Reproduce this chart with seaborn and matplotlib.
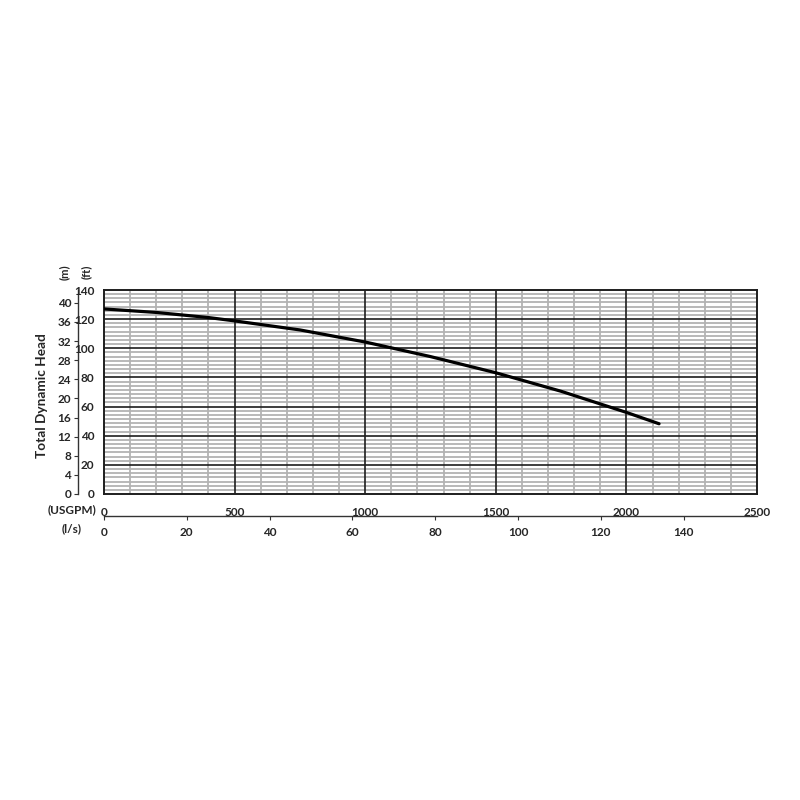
import numpy as np
import pandas as pd
import matplotlib
matplotlib.use("Agg")
import matplotlib.pyplot as plt
import seaborn as sns

# Data
flow_usgpm = [0, 200, 400, 500, 750, 1000, 1250, 1500, 1750, 2000, 2125]
head_ft = [127, 124.6, 121.1, 118.8, 112.6, 104.3, 94.3, 83.2, 70.5, 56, 48.2]

ft_ticks = [0, 20, 40, 60, 80, 100, 120, 140]
m_ticks = [0, 4, 8, 12, 16, 20, 24, 28, 32, 36, 40]
usgpm_ticks = [0, 500, 1000, 1500, 2000, 2500]
ls_ticks = [0, 20, 40, 60, 80, 100, 120, 140]

FT2M = 0.3048
USGPM2LS = 0.0630902

sns.set_style("white")
plt.rcParams['font.family'] = ['Lato', 'DejaVu Sans']
plt.rcParams['font.weight'] = 'bold'

fig = plt.figure(figsize=(8, 8), dpi=100)
ax = fig.add_axes([0.13, 0.3825, 0.81625, 0.255])

df = pd.DataFrame({"flow": flow_usgpm, "head": head_ft})

ax.set_xlim(0, 2500)
ax.set_ylim(0, 140)
ax.set_xticks(usgpm_ticks)
xminor = [v for v in range(0, 2501, 100) if v % 500 != 0]
ax.set_xticks(xminor, minor=True)
ax.set_yticks(ft_ticks)
yminor = [v for i, v in enumerate(np.linspace(0, 140, 50)) if i % 7 != 0]
ax.set_yticks(yminor, minor=True)
ax.grid(which='minor', color='#b3b3b3', lw=1.3)
ax.grid(which='major', visible=False)
ax.set_axisbelow(True)
# major grid lines drawn above the minor ones so they stay continuous
for v in usgpm_ticks[1:-1]:
    ax.axvline(v, color='#1e1e1e', lw=1.2, zorder=2)
for v in ft_ticks[1:-1]:
    ax.axhline(v, color='#1e1e1e', lw=1.2, zorder=2)
ax.tick_params(which='both', length=0)
ax.tick_params(axis='x', pad=9, labelsize=8.5)
ax.tick_params(axis='y', pad=7, labelsize=8.5)
for lbl in ax.get_xticklabels() + ax.get_yticklabels():
    lbl.set_fontweight('bold')
for sp in ax.spines.values():
    sp.set_color('#1e1e1e')
    sp.set_linewidth(1.4)
    sp.set_zorder(3)

sns.lineplot(data=df, x="flow", y="head", ax=ax, color='black', lw=2.3, zorder=5)
ax.set_xlabel("")
ax.set_ylabel("")

# meter axis on the left
secy = ax.secondary_yaxis(-26 / 653, functions=(lambda f: f * FT2M, lambda m: m / FT2M))
secy.set_yticks(m_ticks)
secy.tick_params(length=3, width=0.8, labelsize=8.5, pad=2, color='#333333')
secy.spines['left'].set_color('#333333')
secy.spines['left'].set_linewidth(1.0)
for lbl in secy.get_yticklabels():
    lbl.set_fontweight('bold')

# l/s axis at the bottom
secx = ax.secondary_xaxis(-22 / 204, functions=(lambda q: q * USGPM2LS, lambda l: l / USGPM2LS))
secx.set_xticks(ls_ticks)
secx.tick_params(length=3, width=0.8, labelsize=8.5, pad=5, color='#333333')
secx.spines['bottom'].set_color('#333333')
secx.spines['bottom'].set_linewidth(1.0)
for lbl in secx.get_xticklabels():
    lbl.set_fontweight('bold')

fig.text(42 / 800, 1 - 396 / 800, "Total Dynamic Head", rotation=90, ha='center', va='center',
         fontsize=9.8, fontweight='bold')
fig.text(64 / 800, 1 - 272 / 800, "(m)", rotation=90, ha='center', va='center', fontsize=8, fontweight='bold')
fig.text(86 / 800, 1 - 272 / 800, "(ft)", rotation=90, ha='center', va='center', fontsize=8, fontweight='bold')
fig.text(96 / 800, 1 - 510 / 800, "(USGPM)", ha='right', va='center', fontsize=8.5, fontweight='bold')
fig.text(72 / 800, 1 - 529 / 800, "(l/s)", ha='center', va='center', fontsize=8.5, fontweight='bold')

fig.savefig("out.png", dpi=100, facecolor='white')
